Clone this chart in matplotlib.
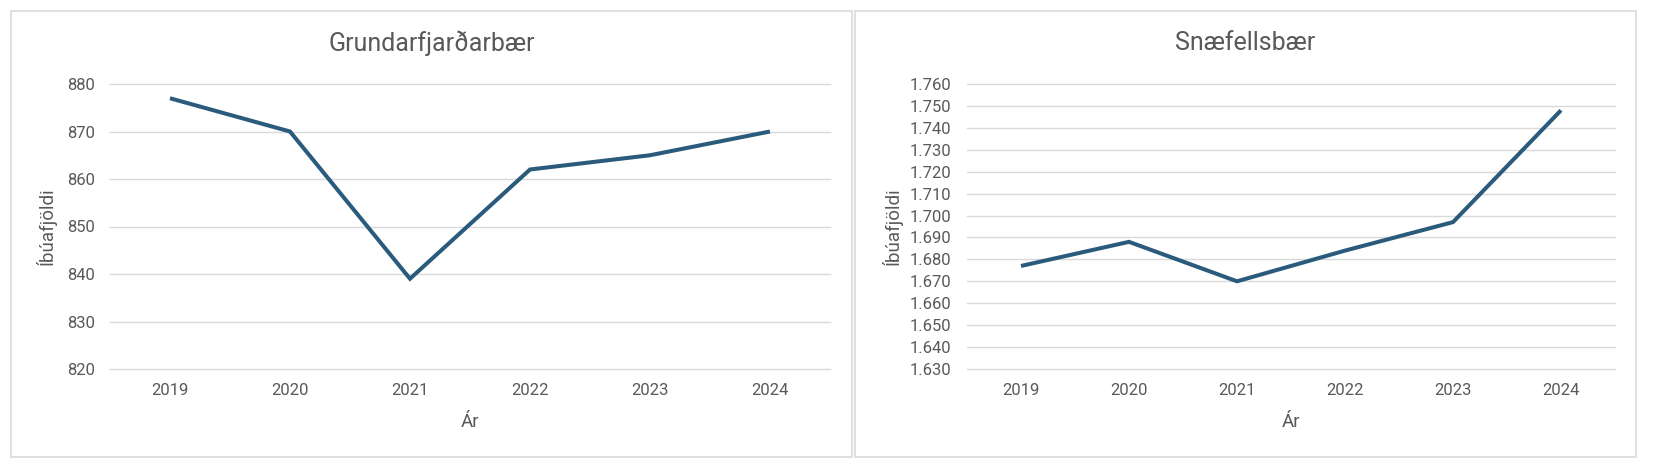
import matplotlib
matplotlib.use("Agg")
import matplotlib.pyplot as plt
from matplotlib.patches import Rectangle
from matplotlib.ticker import FuncFormatter, MultipleLocator

plt.rcParams['font.family'] = ['Roboto', 'DejaVu Sans']

# ── Data ─────────────────────────────────────────────────────────────────────
years = ['2019', '2020', '2021', '2022', '2023', '2024']
grundarfjordur = [877, 870, 839, 862, 865, 870]
snaefellsbaer = [1677, 1688, 1670, 1684, 1697, 1748]

LINE = '#2a5b7c'
GRID = '#d9d9d9'
TEXT = '#595959'
W, H = 1654, 474

def thousands(v, _):
    return f"{int(round(v)):,}".replace(',', '.')

fig = plt.figure(figsize=(W / 100, H / 100), dpi=100)

# panel frames (pixels: left, top, right, bottom)
panels = [(11, 11, 852, 457), (855, 11, 1636, 457)]
for l, t, r, b in panels:
    fig.patches.append(Rectangle((l / W, 1 - b / H), (r - l) / W, (b - t) / H,
                                 transform=fig.transFigure, fill=False,
                                 edgecolor=GRID, linewidth=1.2))

specs = [
    dict(title='Grundarfjarðarbær', values=grundarfjordur, ylim=(820, 880),
         ax_px=(110, 84, 830, 369), panel=panels[0], ylab_x=-0.074),
    dict(title='Snæfellsbær', values=snaefellsbaer, ylim=(1630, 1760),
         ax_px=(967, 84, 1615, 369), panel=panels[1], ylab_x=-0.10),
]

for s in specs:
    l, t, r, b = s['ax_px']
    ax = fig.add_axes([l / W, 1 - b / H, (r - l) / W, (b - t) / H])
    ax.plot(range(len(years)), s['values'], color=LINE, linewidth=2.9,
            solid_capstyle='butt', solid_joinstyle='miter')
    ax.set_xlim(-0.5, len(years) - 0.5)
    ax.set_ylim(*s['ylim'])
    ax.set_xticks(range(len(years)))
    ax.set_xticklabels(years)
    ax.yaxis.set_major_locator(MultipleLocator(10))
    ax.yaxis.set_major_formatter(FuncFormatter(thousands))
    ax.grid(axis='y', color=GRID, linewidth=1.0)
    for gl in ax.get_ygridlines():
        gl.set_clip_on(False)
    ax.set_axisbelow(True)
    for sp in ax.spines.values():
        sp.set_visible(False)
    ax.tick_params(axis='both', length=0, labelsize=12, colors=TEXT)
    ax.tick_params(axis='x', pad=10)
    ax.tick_params(axis='y', pad=11)
    ax.set_ylabel('Íbúafjöldi', fontsize=13.5, color=TEXT)
    ax.yaxis.set_label_coords(s['ylab_x'], 0.5)
    ax.set_xlabel('Ár', fontsize=13.5, color=TEXT)
    ax.xaxis.set_label_coords(0.5, -0.155)
    pl, pt, pr, pb = s['panel']
    fig.text((pl + pr) / 2 / W, 1 - 43 / H, s['title'], ha='center', va='center',
             fontsize=18, color=TEXT)

fig.savefig('out.png', dpi=100)
